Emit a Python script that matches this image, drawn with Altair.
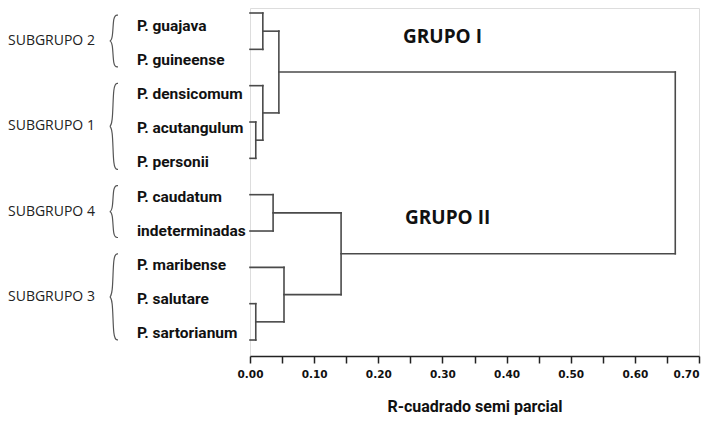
import altair as alt
import pandas as pd

# ---------------- data ----------------
leaves = ["P. guajava", "P. guineense", "P. densicomum", "P. acutangulum",
          "P. personii", "P. caudatum", "indeterminadas", "P. maribense",
          "P. salutare", "P. sartorianum"]

# agglomeration steps: node ids 0..9 are leaves, merges get ids 10, 11, ...
merge_left = [3, 8, 0, 2, 5, 12, 7, 14, 15]
merge_right = [4, 9, 1, 10, 6, 13, 11, 16, 17]
merge_height = [0.009, 0.009, 0.020, 0.020, 0.036, 0.045, 0.053, 0.142, 0.663]

subgroups = ["SUBGRUPO 2", "SUBGRUPO 1", "SUBGRUPO 4", "SUBGRUPO 3"]
subgroup_first = [0, 2, 5, 7]
subgroup_last = [1, 4, 6, 9]

groups = ["GRUPO I", "GRUPO II"]

tick_values = [0.00, 0.05, 0.10, 0.15, 0.20, 0.25, 0.30, 0.35,
               0.40, 0.45, 0.50, 0.55, 0.60, 0.65, 0.70]

# ---------------- build dendrogram segments from the merges ----------------
n = len(leaves)
node_x = {i: 0.0 for i in range(n)}
node_y = {i: float(i) for i in range(n)}
segs = []
for k, (a, b, h) in enumerate(zip(merge_left, merge_right, merge_height)):
    segs.append(dict(x=h, x2=h, y=node_y[a], y2=node_y[b]))
    segs.append(dict(x=node_x[a], x2=h, y=node_y[a], y2=node_y[a]))
    segs.append(dict(x=node_x[b], x2=h, y=node_y[b], y2=node_y[b]))
    node_x[n + k] = h
    node_y[n + k] = (node_y[a] + node_y[b]) / 2
seg_df = pd.DataFrame(segs)

W, H = 449, 348
NARROW = "Roboto"
LINE_COLOR = "#4a4a4a"

line_y = alt.Scale(domain=[-0.1376, 9.44], reverse=True, nice=False, zero=False)
text_y = alt.Scale(domain=[-0.528, 9.674], reverse=True, nice=False, zero=False)
pix_x = alt.Scale(domain=[0, W], range=[0, W], nice=False, zero=False)

dendro = alt.Chart(seg_df).mark_rule(
    color=LINE_COLOR, strokeWidth=1.6, strokeCap="square"
).encode(
    x=alt.X("x:Q",
            scale=alt.Scale(domain=[0, 0.7], nice=False, zero=False),
            axis=alt.Axis(values=tick_values, format=".2f",
                          title="R-cuadrado semi parcial",
                          titleFont=NARROW, titleFontSize=16,
                          titleFontWeight="bold", titleColor="#111",
                          titlePadding=19,
                          labelFont="DejaVu Sans", labelFontSize=10.5,
                          labelFontWeight="bold", labelColor="#111",
                          labelPadding=6,
                          labelAlign={"condition": {"test": "datum.value >= 0.7", "value": "right"},
                                      "value": "center"},
                          tickSize=7, tickWidth=1.5, tickColor="#222",
                          domainColor="#222", domainWidth=1.5, grid=False)),
    x2="x2:Q",
    y=alt.Y("y:Q", scale=line_y, axis=None),
    y2="y2:Q",
)

# group annotations
group_layers = []
for name, px, py in zip(groups, [153, 155], [29, 210]):
    group_layers.append(
        alt.Chart(pd.DataFrame({"g": [name]})).mark_text(
            align="left", baseline="middle", font="Open Sans",
            fontWeight="bold", fontSize=19, color="#111"
        ).encode(x=alt.value(px), y=alt.value(py), text="g:N")
    )

# leaf labels
leaf_df = pd.DataFrame({"leaf": leaves, "pos": list(range(n))})
leaf_text = alt.Chart(leaf_df).mark_text(
    align="left", baseline="middle", font=NARROW, fontWeight="bold",
    fontSize=15.5, color="#111"
).encode(
    x=alt.value(137 - 250),
    y=alt.Y("pos:Q", scale=text_y, axis=None),
    text="leaf:N",
)

# braces built from the subgroup leaf ranges
brace_rows = []
for name, f, l in zip(subgroups, subgroup_first, subgroup_last):
    top, bot = f - 0.32, l + 0.2
    mid = (top + bot) / 2
    pts = [(-132, top), (-137, top), (-137, mid), (-142, mid),
           (-137, mid), (-137, bot), (-132, bot)]
    for k, (bx, by) in enumerate(pts):
        brace_rows.append(dict(sg=name, k=k, bx=bx, by=by))
brace_df = pd.DataFrame(brace_rows)
braces = alt.Chart(brace_df).mark_line(
    color="#555", strokeWidth=1.2, interpolate="basis"
).encode(
    x=alt.X("bx:Q", scale=pix_x, axis=None),
    y=alt.Y("by:Q", scale=text_y, axis=None),
    detail="sg:N",
    order="k:Q",
)

sub_df = pd.DataFrame({"sg": subgroups,
                       "mid": [(f - 0.32 + l + 0.2) / 2 for f, l in zip(subgroup_first, subgroup_last)]})
sub_text = alt.Chart(sub_df).mark_text(
    align="left", baseline="middle", font="Open Sans", fontSize=14, color="#222"
).encode(
    x=alt.value(8 - 250),
    y=alt.Y("mid:Q", scale=text_y, axis=None),
    text="sg:N",
)

inner = alt.layer(leaf_text, braces, sub_text)

chart = alt.layer(dendro, *group_layers, inner).resolve_scale(
    x="independent", y="independent"
).properties(
    width=W, height=H,
    autosize=alt.AutoSizeParams(type="none"),
    padding={"left": 242, "top": 0, "right": 2, "bottom": 62},
).configure_view(stroke=None).configure_axisY(disable=True).configure(background="white")

chart.save("out.html", embed_options={"renderer": "svg", "actions": False})
